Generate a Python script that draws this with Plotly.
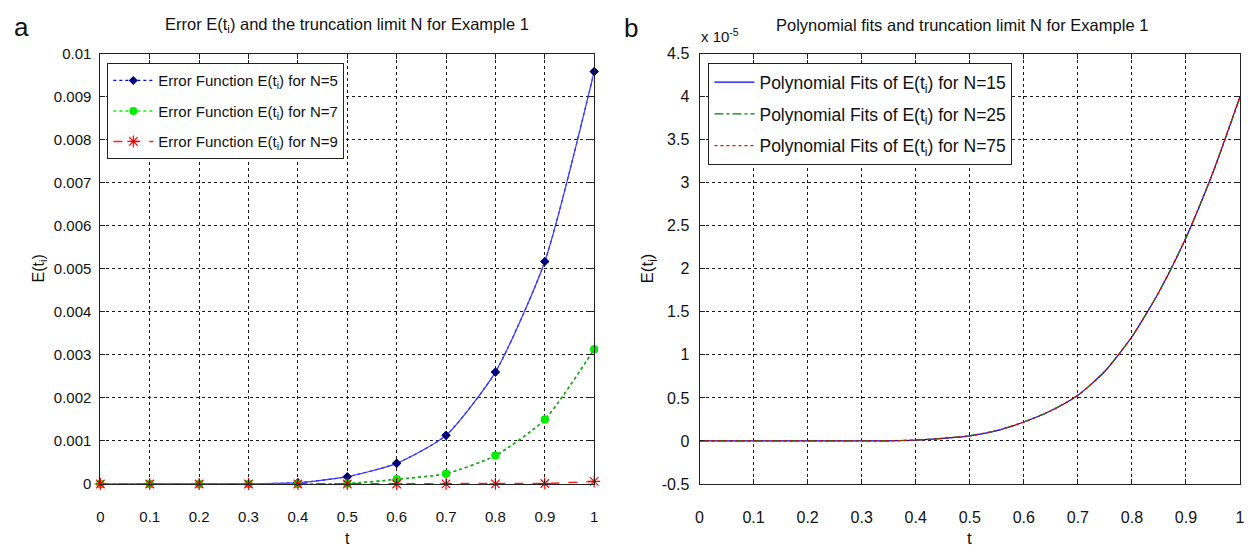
import plotly.graph_objects as go

# ---------------- data ----------------
t = [0.0, 0.1, 0.2, 0.3, 0.4, 0.5, 0.6, 0.7, 0.8, 0.9, 1.0]
err_n5 = [0, 0.000001, 0.000002, 0.000005, 0.00003, 0.00017, 0.00048, 0.00113, 0.0026, 0.00517, 0.00958]
err_n7 = [0, 0, 0, 0.000001, 0.000003, 0.00001, 0.00011, 0.00024, 0.00066, 0.0015, 0.00313]
err_n9 = [0, 0, 0, 0, 0, 0, 0.000001, 0.000002, 0.000005, 0.000012, 0.00006]

t_fit = [0.0, 0.05, 0.1, 0.15, 0.2, 0.25, 0.3, 0.35, 0.4, 0.45, 0.5, 0.55, 0.6,
         0.65, 0.7, 0.75, 0.8, 0.85, 0.9, 0.95, 1.0]
# values in units of 1e-5
fit_n15 = [0, 0, 0, 0, 0, 0, 0, 0.002, 0.01, 0.03, 0.06, 0.12, 0.22, 0.35, 0.53,
           0.81, 1.21, 1.73, 2.36, 3.12, 4.0]
fit_n25 = [0, 0, 0, 0, 0, 0, 0, 0.002, 0.01, 0.03, 0.06, 0.12, 0.22, 0.35, 0.53,
           0.81, 1.21, 1.73, 2.36, 3.12, 3.99]
fit_n75 = [0, 0, 0, 0, 0, 0, 0, 0.002, 0.01, 0.03, 0.06, 0.12, 0.22, 0.35, 0.53,
           0.81, 1.21, 1.73, 2.36, 3.12, 4.0]

x_ticks = [0, 0.1, 0.2, 0.3, 0.4, 0.5, 0.6, 0.7, 0.8, 0.9, 1]
x_ticktext = ["0", "0.1", "0.2", "0.3", "0.4", "0.5", "0.6", "0.7", "0.8", "0.9", "1"]
ya_ticks = [0, 0.001, 0.002, 0.003, 0.004, 0.005, 0.006, 0.007, 0.008, 0.009, 0.01]
ya_ticktext = ["0", "0.001", "0.002", "0.003", "0.004", "0.005", "0.006", "0.007", "0.008", "0.009", "0.01"]
yb_ticks = [-0.5, 0, 0.5, 1, 1.5, 2, 2.5, 3, 3.5, 4, 4.5]
yb_ticktext = ["-0.5", "0", "0.5", "1", "1.5", "2", "2.5", "3", "3.5", "4", "4.5"]

FONT = "Liberation Sans Narrow, Arial Narrow, Liberation Sans, Arial, sans-serif"

W, H = 1248, 553
AX_TOP, AX_BOT = 46, 491
A_L, A_R = 97, 594
B_L, B_R = 700, 1244


def px_x(a, b):
    return [a / W, b / W]


def px_y(top, bottom):
    return [(H - bottom) / H, (H - top) / H]


def py(y):
    return (H - y) / H


fig = go.Figure()

# ---- panel a ----
fig.add_trace(go.Scatter(x=t, y=err_n5, mode="lines+markers", name="Error Function E(t<sub>i</sub>) for N=5",
                         line=dict(color="#0000ff", dash="dot", width=1.2, shape="spline", smoothing=0.6),
                         marker=dict(symbol="diamond", size=7, color="#000080"),
                         xaxis="x", yaxis="y", legend="legend", legendgroup="a1", cliponaxis=False))
fig.add_trace(go.Scatter(x=t, y=err_n5, mode="lines", showlegend=False,
                         line=dict(color="#3a3aff", width=1.2, shape="spline", smoothing=0.6),
                         xaxis="x", yaxis="y", hoverinfo="skip"))
fig.add_trace(go.Scatter(x=t, y=err_n5, mode="markers", showlegend=False,
                         marker=dict(symbol="diamond", size=7, color="#000080"),
                         xaxis="x", yaxis="y", cliponaxis=False, hoverinfo="skip"))

fig.add_trace(go.Scatter(x=t, y=err_n7, mode="lines+markers", name="Error Function E(t<sub>i</sub>) for N=7",
                         line=dict(color="#00ff00", dash="dot", width=1.5, shape="spline", smoothing=0.6),
                         marker=dict(symbol="circle", size=8, color="#00ee00"),
                         xaxis="x", yaxis="y", legend="legend", legendgroup="a2", cliponaxis=False))
fig.add_trace(go.Scatter(x=t, y=err_n7, mode="lines", showlegend=False,
                         line=dict(color="#2e9a2e", dash="dot", width=1.5, shape="spline", smoothing=0.6),
                         xaxis="x", yaxis="y", hoverinfo="skip"))
fig.add_trace(go.Scatter(x=t, y=err_n7, mode="markers", showlegend=False,
                         marker=dict(symbol="circle", size=8, color="#00ee00"),
                         xaxis="x", yaxis="y", cliponaxis=False, hoverinfo="skip"))

fig.add_trace(go.Scatter(x=t, y=err_n9, mode="lines+markers", name="Error Function E(t<sub>i</sub>) for N=9",
                         line=dict(color="#ff2020", dash="dash", width=1.5),
                         marker=dict(symbol="asterisk", size=10, color="#ff0000",
                                     line=dict(color="#ff0000", width=1.2)),
                         xaxis="x", yaxis="y", legend="legend", legendgroup="a3", cliponaxis=False))

# ---- panel b ----
fig.add_trace(go.Scatter(x=t_fit, y=fit_n15, mode="lines", name="Polynomial Fits of E(t<sub>i</sub>) for N=15",
                         line=dict(color="#0000ff", width=1.2, shape="spline", smoothing=0.6),
                         xaxis="x2", yaxis="y2", legend="legend2", legendgroup="b1"))
fig.add_trace(go.Scatter(x=t_fit, y=fit_n25, mode="lines", name="Polynomial Fits of E(t<sub>i</sub>) for N=25",
                         line=dict(color="#008000", dash="dashdot", width=1.2, shape="spline", smoothing=0.6),
                         xaxis="x2", yaxis="y2", legend="legend2", legendgroup="b2"))
fig.add_trace(go.Scatter(x=t_fit, y=fit_n75, mode="lines", name="Polynomial Fits of E(t<sub>i</sub>) for N=75",
                         line=dict(color="#ff0000", dash="dot", width=1.2, shape="spline", smoothing=0.6),
                         xaxis="x2", yaxis="y2", legend="legend2", legendgroup="b3"))


def axis_common(size):
    return dict(showline=True, linecolor="#222", linewidth=1, mirror="ticks",
                ticks="inside", ticklen=5, tickcolor="#222",
                showgrid=True, gridcolor="#1a1a1a", gridwidth=1, griddash="3px,3px",
                zeroline=False, tickfont=dict(family=FONT, size=size, color="#111"))


fig.update_layout(
    width=W, height=H, paper_bgcolor="white", plot_bgcolor="white",
    margin=dict(l=0, r=0, t=0, b=0),
    font=dict(family=FONT, color="#111"),
    xaxis=dict(domain=px_x(A_L, A_R), range=[0, 1], tickvals=x_ticks, ticktext=x_ticktext,
               ticklabelstandoff=19, anchor="y", **axis_common(15)),
    yaxis=dict(domain=px_y(AX_TOP, AX_BOT), range=[0, 0.01], tickvals=ya_ticks, ticktext=ya_ticktext,
               ticklabelstandoff=5, anchor="x", **axis_common(15)),
    xaxis2=dict(domain=px_x(B_L, B_R), range=[0, 1], tickvals=x_ticks, ticktext=x_ticktext,
                ticklabelstandoff=19, anchor="y2", **axis_common(16)),
    yaxis2=dict(domain=px_y(AX_TOP, AX_BOT), range=[-0.5, 4.5], tickvals=yb_ticks, ticktext=yb_ticktext,
                ticklabelstandoff=6, anchor="x2", **axis_common(16)),
    legend=dict(x=104 / W, y=py(56), xanchor="left", yanchor="top",
                bgcolor="white", bordercolor="#222", borderwidth=1,
                font=dict(family=FONT, size=15, color="#111"),
                tracegroupgap=8, traceorder="grouped", itemwidth=40),
    legend2=dict(x=709 / W, y=py(56), xanchor="left", yanchor="top",
                 bgcolor="white", bordercolor="#222", borderwidth=1,
                 font=dict(family=FONT, size=17.5, color="#111"),
                 tracegroupgap=6, traceorder="grouped", itemwidth=40),
    annotations=[
        dict(text="a", x=18 / W, y=py(19), xref="paper", yref="paper", xanchor="center", yanchor="middle",
             showarrow=False, font=dict(family="Liberation Sans, Arial", size=26, color="#111")),
        dict(text="b", x=631 / W, y=py(20), xref="paper", yref="paper", xanchor="center", yanchor="middle",
             showarrow=False, font=dict(family="Liberation Sans, Arial", size=26, color="#111")),
        dict(text="Error E(t<sub>i</sub>) and the truncation limit N for Example 1",
             x=(A_L + A_R) / 2 / W, y=py(17), xref="paper", yref="paper", xanchor="center", yanchor="middle",
             showarrow=False, font=dict(family=FONT, size=16.5, color="#111")),
        dict(text="Polynomial fits and truncation limit N for Example 1",
             x=(B_L + B_R) / 2 / W - 0.006, y=py(17), xref="paper", yref="paper", xanchor="center", yanchor="middle",
             showarrow=False, font=dict(family=FONT, size=16.5, color="#111")),
        dict(text="x 10<sup>-5</sup>", x=699 / W, y=py(27), xref="paper", yref="paper",
             xanchor="left", yanchor="middle", showarrow=False,
             font=dict(family=FONT, size=15, color="#111")),
        dict(text="E(t<sub>i</sub>)", x=36 / W, y=py((AX_TOP + AX_BOT) / 2), xref="paper", yref="paper",
             xanchor="center", yanchor="middle", textangle=-90, showarrow=False,
             font=dict(family=FONT, size=16, color="#111")),
        dict(text="E(t<sub>i</sub>)", x=649 / W, y=py((AX_TOP + AX_BOT) / 2), xref="paper", yref="paper",
             xanchor="center", yanchor="middle", textangle=-90, showarrow=False,
             font=dict(family=FONT, size=17, color="#111")),
        dict(text="t", x=(A_L + A_R) / 2 / W, y=py(547), xref="paper", yref="paper",
             xanchor="center", yanchor="middle", showarrow=False,
             font=dict(family=FONT, size=16, color="#111")),
        dict(text="t", x=(B_L + B_R) / 2 / W, y=py(547), xref="paper", yref="paper",
             xanchor="center", yanchor="middle", showarrow=False,
             font=dict(family=FONT, size=17, color="#111")),
    ],
)

fig.write_html("out.html", config={"displayModeBar": False},
               post_script="document.body.style.margin='0';document.body.style.overflow='hidden';")
